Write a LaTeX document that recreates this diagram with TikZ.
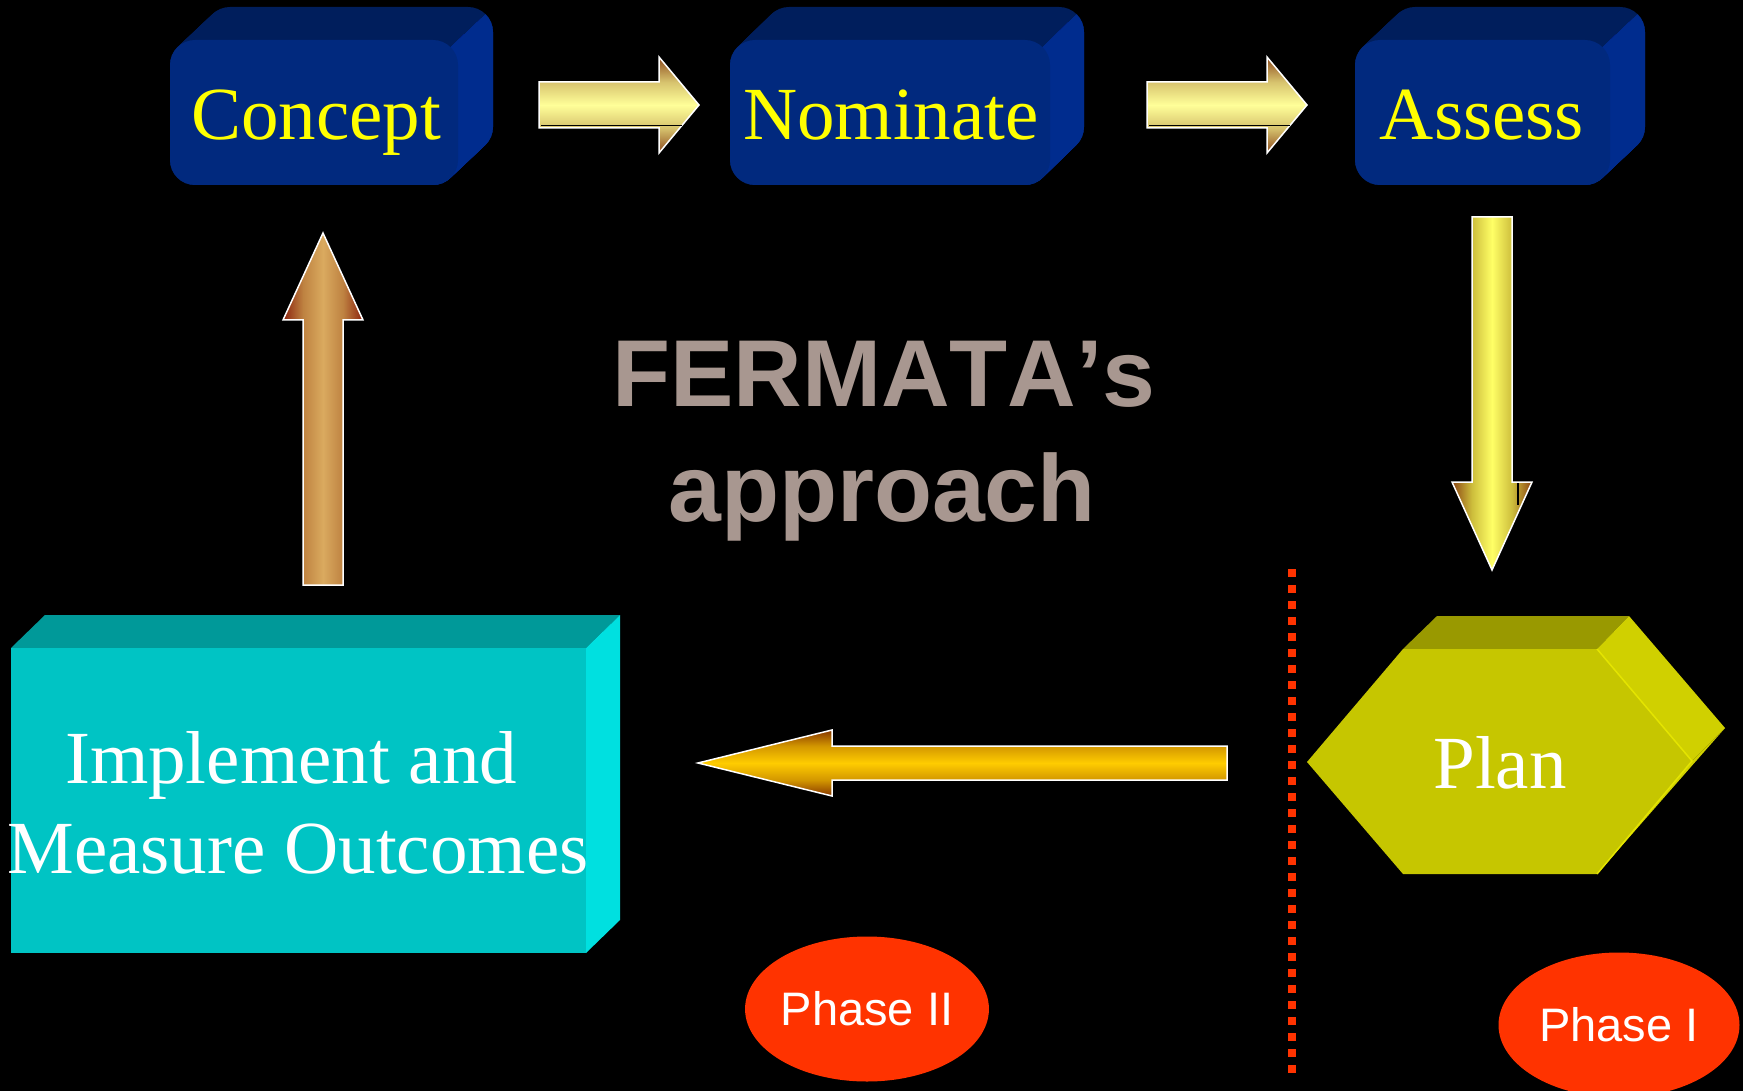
\documentclass[tikz,border=0pt]{standalone}
\usepackage{fontspec}
\setmainfont{Liberation Serif}
\newfontfamily\arialfont{Liberation Sans}
\newfontfamily\arialnokern[Kerning=Off]{Liberation Sans}
\usetikzlibrary{shapes.geometric}

\definecolor{boxfront}{RGB}{1,41,126}
\definecolor{boxtop}{RGB}{0,30,92}
\definecolor{boxside}{RGB}{0,44,142}
\definecolor{cyfront}{RGB}{0,196,196}
\definecolor{cytop}{RGB}{0,153,153}
\definecolor{cyside}{RGB}{0,224,224}
\definecolor{plfront}{RGB}{198,198,0}
\definecolor{pltop}{RGB}{153,153,0}
\definecolor{plside}{RGB}{208,208,0}
\definecolor{pledge}{RGB}{228,228,0}
\definecolor{titleyellow}{RGB}{255,255,0}
\definecolor{fermgrey}{RGB}{168,151,144}
\definecolor{phasered}{RGB}{255,51,0}
% arrow colours
\definecolor{rtbrown}{RGB}{140,75,30}
\definecolor{rtedge}{RGB}{215,195,110}
\definecolor{rtpale}{RGB}{255,255,153}
\definecolor{dnbrown}{RGB}{140,70,20}
\definecolor{dnedge}{RGB}{205,190,60}
\definecolor{dnyellow}{RGB}{255,255,102}
\definecolor{upbrown}{RGB}{140,35,15}
\definecolor{upedge}{RGB}{190,130,65}
\definecolor{uptan}{RGB}{218,170,95}
\definecolor{lfbrown}{RGB}{135,55,0}
\definecolor{lfedge}{RGB}{210,150,0}
\definecolor{lfgold}{RGB}{255,204,0}

\pgfdeclareverticalshading{rtarrow}{100bp}{color(0bp)=(rtbrown); color(25bp)=(rtbrown); color(38bp)=(rtedge); color(50bp)=(rtpale); color(62bp)=(rtedge); color(75bp)=(rtbrown); color(100bp)=(rtbrown)}
\pgfdeclarehorizontalshading{dnarrow}{100bp}{color(0bp)=(dnbrown); color(25bp)=(dnbrown); color(37.5bp)=(dnedge); color(50bp)=(dnyellow); color(62.5bp)=(dnedge); color(75bp)=(dnbrown); color(100bp)=(dnbrown)}
\pgfdeclarehorizontalshading{uparrow}{100bp}{color(0bp)=(upbrown); color(25bp)=(upbrown); color(37.5bp)=(upedge); color(50bp)=(uptan); color(62.5bp)=(upedge); color(75bp)=(upbrown); color(100bp)=(upbrown)}
\pgfdeclareverticalshading{lfarrow}{100bp}{color(0bp)=(lfbrown); color(25bp)=(lfbrown); color(37bp)=(lfedge); color(50bp)=(lfgold); color(63bp)=(lfedge); color(75bp)=(lfbrown); color(100bp)=(lfbrown)}

\tikzset{
  serifbig/.style={font=\fontsize{75}{80}\selectfont, inner sep=0pt, anchor=base},
  bluelabel/.style={serifbig, text=titleyellow},
  whitelabel/.style={serifbig, text=white},
  fermlabel/.style={font=\arialnokern\bfseries\fontsize{95}{100}\selectfont, text=fermgrey, inner sep=0pt, anchor=base},
  phase/.style={ellipse, fill=phasered, minimum width=241pt, minimum height=145pt, inner sep=0pt,
                text=white, font=\arialfont\fontsize{47}{50}\selectfont},
  blockarrow/.style={draw=white, line width=1.5pt, line join=miter},
  divider/.style={draw=phasered, line width=8pt, dash pattern=on 8pt off 8pt},
  artifact/.style={draw=black, line width=1.2pt},
}

% 3-D rounded block: #1 x1, #2 x2, #3 y top, #4 y bottom, #5 depth x
\newcommand\myblueblock[5]{%
  \foreach \i in {0,...,40}{%
    \fill[boxtop, rounded corners=25pt, shift={({\i*#5/40},{-\i*33/40})}] (#1,#3) rectangle (#2,#4);}
  \begin{scope}
    \clip ({#2-7-10*#5},{#3+7+330}) -- ({#2-7+10*#5},{#3+7-330}) --
          ({#2-7+10*#5+700},{#3+7-330+700}) -- ({#2-7-10*#5+700},{#3+7+330+700}) -- cycle;
    \foreach \i in {0,...,40}{%
      \fill[boxside, rounded corners=25pt, shift={({\i*#5/40},{-\i*33/40})}] (#1,#3) rectangle (#2,#4);}
  \end{scope}
  \fill[boxfront, rounded corners=25pt] (#1,#3) rectangle (#2,#4);
}

\begin{document}
\begin{tikzpicture}[x=1pt, y=-1pt]
\useasboundingbox (0,0) rectangle (1743,1091);
\fill[black] (0,0) rectangle (1743,1091);

% top blocks
\myblueblock{170}{458}{40}{185}{35}
\myblueblock{730}{1050}{40}{185}{34}
\myblueblock{1355}{1610}{40}{185}{35}
\node[bluelabel] (concept) at (316,140) {Concept};
\node[bluelabel] (nominate) at (891,140) {Nominate};
\node[bluelabel] (assess) at (1482,140) {Assess};

% right arrows
\shadedraw[blockarrow, shading=rtarrow] (539,82) -- (659,82) -- (659,57) -- (699,105) -- (659,153) -- (659,128) -- (539,128) -- cycle;
\draw[artifact] (541,125.5) -- (682,125.5);
\shadedraw[blockarrow, shading=rtarrow] (1147,82) -- (1267,82) -- (1267,57) -- (1307,105) -- (1267,153) -- (1267,128) -- (1147,128) -- cycle;
\draw[artifact] (1149,125.5) -- (1290,125.5);

% down arrow
\shadedraw[blockarrow, shading=dnarrow] (1472,217) -- (1512,217) -- (1512,482) -- (1532,482) -- (1492,570) -- (1452,482) -- (1472,482) -- cycle;
\draw[artifact] (1518,483) -- (1518,505);

% up arrow
\shadedraw[blockarrow, shading=uparrow] (303,585) -- (303,320) -- (283,320) -- (323,233) -- (363,320) -- (343,320) -- (343,585) -- cycle;

% left arrow
\shadedraw[blockarrow, shading=lfarrow] (1227,746) -- (832,746) -- (832,730) -- (698,763) -- (832,796) -- (832,780) -- (1227,780) -- cycle;

% central title
\node[fermlabel] (ferm1) at (884,406) {FERMATA’s};
\node[fermlabel] (ferm2) at (882,521) {approach};

% implement block
\fill[cytop] (11,648) -- (45,615) -- (620,615) -- (586,648) -- cycle;
\fill[cyside] (586,648) -- (620,615) -- (620,920) -- (586,953) -- cycle;
\fill[cyfront] (11,648) rectangle (586,953);
\node[whitelabel] (impl1) at (291,783) {Implement and};
\node[whitelabel] (impl2) at (298,873) {Measure Outcomes};

% plan hexagon
\fill[pltop] (1403,649) -- (1437,616) -- (1629,616) -- (1597,649) -- cycle;
\fill[plside] (1597,649) -- (1629,616) -- (1725,728) -- (1692,761) -- cycle;
\fill[plside] (1692,761) -- (1725,728) -- (1597,874) -- cycle;
\fill[plfront] (1307,762) -- (1403,649) -- (1597,649) -- (1692,761) -- (1597,874) -- (1403,874) -- cycle;
\draw[pledge, line width=1.5pt] (1597,649) -- (1692,761) -- (1597,874);
\node[whitelabel] (plan) at (1500,788) {Plan};

% divider
\coordinate (divtop) at (1292,569);
\coordinate (divbot) at (1292,1073);
\draw[divider] (divtop) -- (divbot);

% phases
\node[phase] (phase2) at (867,1009) {Phase II};
\node[phase] (phase1) at (1619,1025) {Phase I};
\end{tikzpicture}
\end{document}
